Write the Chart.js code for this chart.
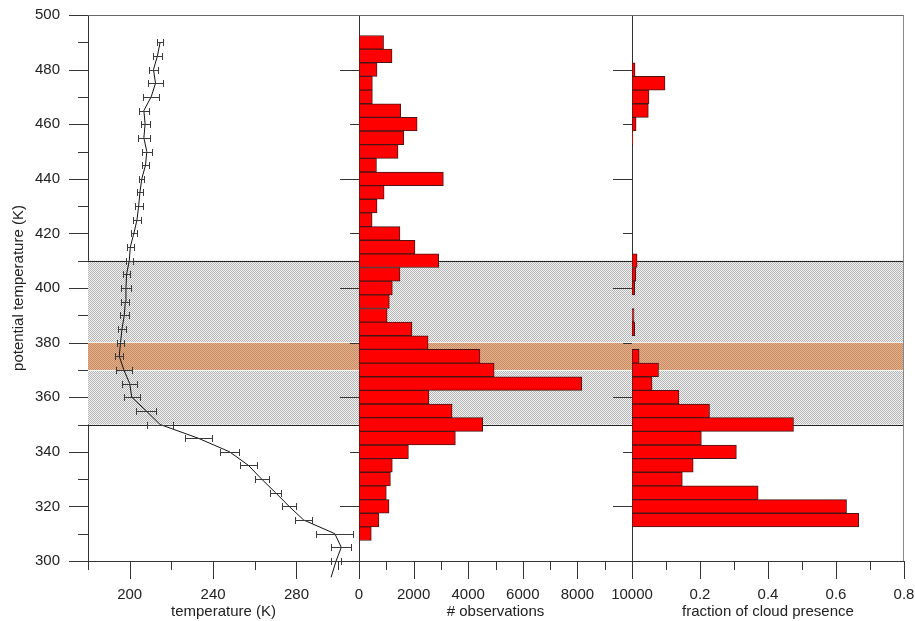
<!DOCTYPE html>
<html>
<head>
<meta charset="utf-8">
<script src="https://cdn.jsdelivr.net/npm/chart.js@4.4.0/dist/chart.umd.min.js"></script>
<style>
  html, body { margin: 0; padding: 0; background: #fff; }
  #wrap { position: relative; width: 915px; height: 621px; }
  #wrap canvas { position: absolute; left: 0; top: 0; }
</style>
</head>
<body>
<div id="wrap">
  <canvas id="c1" width="915" height="621"></canvas>
  <canvas id="c2" width="915" height="621"></canvas>
  <canvas id="c3" width="915" height="621"></canvas>
</div>
<script>
// perfil de temperatura (K) por temperatura potencial, con barras de error
const thetaProfile = [294, 300, 305, 310, 315, 320, 325, 330, 335, 340, 345, 350, 355, 360, 365, 370, 375, 380, 385, 390,
                      395, 400, 405, 410, 415, 420, 425, 430, 435, 440, 445, 450, 455, 460, 465, 470, 475, 480, 485, 490];
const tempMean = [296.6, 299.0, 301.5, 298.4, 283.5, 276.5, 270.0, 263.3, 257.0, 247.9, 232.8, 214.6, 207.9, 201.0, 200.0, 197.2, 195.0, 195.6, 196.3, 197.4,
                  197.9, 198.2, 198.5, 199.8, 200.3, 202.0, 203.5, 204.3, 204.9, 205.8, 207.6, 208.2, 206.8, 207.4, 206.8, 210.3, 212.4, 211.4, 213.3, 214.6];
const tempErr = [null, 2.2, 4.9, 8.9, 4.0, 3.3, 2.6, 3.3, 3.9, 4.4, 6.5, 6.4, 4.9, 3.8, 3.7, 4.0, 1.9, 1.9, 1.9, 2.1,
                 1.9, 2.2, 1.6, 1.6, 1.8, 1.6, 2.1, 1.9, 1.6, 1.3, 1.8, 2.4, 2.9, 2.2, 2.4, 3.8, 3.5, 2.1, 2.1, 1.3];

// histograma de observaciones
const obsBins = [490, 485, 480, 475, 470, 465, 460, 455, 450, 445, 440, 435, 430, 425, 420, 415, 410, 405, 400, 395,
                 390, 385, 380, 375, 370, 365, 360, 355, 350, 345, 340, 335, 330, 325, 320, 315, 310];
const obsCount = [900, 1210, 660, 490, 490, 1530, 2130, 1640, 1430, 640, 3090, 920, 660, 480, 1500, 2050, 2920, 1500, 1220, 1110,
                  1030, 1940, 2530, 4430, 4950, 8160, 2560, 3410, 4530, 3530, 1810, 1220, 1150, 1000, 1100, 730, 450];

// fraccion de presencia de nubes
const cloudBins = [480, 475, 470, 465, 460, 455, 450, 445, 440, 435, 430, 425, 420, 415, 410, 405, 400, 395, 390, 385,
                   380, 375, 370, 365, 360, 355, 350, 345, 340, 335, 330, 325, 320, 315];
const cloudFrac = [0.009, 0.097, 0.050, 0.048, 0.012, 0.002, null, null, null, null, null, null, null, null, 0.015, 0.011, 0.008, null, 0.006, 0.008,
                   null, 0.021, 0.078, 0.059, 0.138, 0.228, 0.475, 0.204, 0.307, 0.180, 0.148, 0.371, 0.631, 0.667];

const grayBand = [350, 410];
const orangeBand = [370, 380];

Chart.defaults.font.family = "'Liberation Sans', Arial, sans-serif";
Chart.defaults.font.size = 15;
Chart.defaults.color = '#222';

function dotPattern(ctx, light, dark) {
    const pc = document.createElement('canvas');
    pc.width = 2; pc.height = 2;
    const g = pc.getContext('2d');
    g.fillStyle = light; g.fillRect(0, 0, 2, 2);
    g.fillStyle = dark; g.fillRect(0, 0, 1, 1); g.fillRect(1, 1, 1, 1);
    return ctx.createPattern(pc, 'repeat');
}

function hLine(ctx, x0, x1, y) {
    const p = Math.round(y) + 0.5;
    ctx.beginPath(); ctx.moveTo(x0, p); ctx.lineTo(x1, p); ctx.stroke();
}

const panelDeco = {
    id: 'panelDeco',
    beforeDatasetsDraw(chart, args, opts) {
        const {ctx, chartArea: a, scales: {y}} = chart;
        const gTop = y.getPixelForValue(grayBand[1]), gBot = y.getPixelForValue(grayBand[0]);
        const oTop = y.getPixelForValue(orangeBand[1]), oBot = y.getPixelForValue(orangeBand[0]);
        ctx.save();
        ctx.fillStyle = dotPattern(ctx, '#f4f4f4', '#b2b2b2');
        ctx.fillRect(a.left, gTop, a.right - a.left, gBot - gTop);
        ctx.fillStyle = dotPattern(ctx, '#e6b28c', '#c68b64');
        ctx.fillRect(a.left, oTop, a.right - a.left, oBot - oTop);
        ctx.lineWidth = 1;
        ctx.strokeStyle = 'rgba(255,255,255,0.75)';
        hLine(ctx, a.left, a.right, oTop - 1);
        hLine(ctx, a.left, a.right, oBot);
        ctx.strokeStyle = '#222';
        hLine(ctx, a.left, a.right, gTop);
        hLine(ctx, a.left, a.right, gBot);
        if (opts.closeBand) {
            const px = Math.round(a.right) - 0.5;
            ctx.beginPath(); ctx.moveTo(px, gTop); ctx.lineTo(px, gBot); ctx.stroke();
        }
        ctx.restore();
    },
    afterDatasetsDraw(chart, args, opts) {
        if (!opts.errorBars) return;
        const {ctx, scales: {x, y}} = chart;
        ctx.save();
        ctx.strokeStyle = '#3a3a3a';
        ctx.lineWidth = 1;
        ctx.beginPath();
        for (let i = 0; i < thetaProfile.length; i++) {
            if (tempErr[i] === null) continue;
            const py = Math.round(y.getPixelForValue(thetaProfile[i])) + 0.5;
            const x0 = Math.round(x.getPixelForValue(tempMean[i] - tempErr[i])) + 0.5;
            const x1 = Math.round(x.getPixelForValue(tempMean[i] + tempErr[i])) + 0.5;
            ctx.moveTo(x0, py); ctx.lineTo(x1, py);
            ctx.moveTo(x0, py - 3.5); ctx.lineTo(x0, py + 3.5);
            ctx.moveTo(x1, py - 3.5); ctx.lineTo(x1, py + 3.5);
        }
        ctx.stroke();
        ctx.restore();
    },
    afterDraw(chart, args, opts) {
        const {ctx, chartArea: a, scales} = chart;
        ctx.save();
        ctx.lineWidth = 1;
        ctx.strokeStyle = '#333';
        ctx.beginPath();
        (opts.ticks || []).forEach(t => {
            const s = scales[t.axis];
            for (let v = t.from; v <= t.to + 1e-9; v += t.step) {
                const p = Math.round(s.getPixelForValue(v)) + 0.5;
                if (t.axis === 'y') { ctx.moveTo(a.left - t.len, p); ctx.lineTo(a.left, p); }
                else { ctx.moveTo(p, a.bottom); ctx.lineTo(p, a.bottom + t.len); }
            }
        });
        ctx.stroke();
        ctx.strokeStyle = '#666';
        hLine(ctx, a.left, a.right, a.top);
        if (opts.rightBorder) {
            ctx.strokeStyle = '#888';
            const px = Math.round(a.right) - 0.5;
            ctx.beginPath(); ctx.moveTo(px, a.top); ctx.lineTo(px, a.bottom); ctx.stroke();
        }
        ctx.restore();
    }
};

// eje y comun (temperatura potencial)
function yAxis(width, showLabels) {
    return {
        type: 'linear', position: 'left', min: 300, max: 500, offset: false,
        grid: { display: false, drawTicks: true, tickLength: 19, offset: false },
        border: { display: true, color: '#333' },
        ticks: {
            stepSize: 20, padding: 9,
            callback: v => showLabels ? String(v) : ''
        },
        title: {
            display: showLabels, text: 'potential temperature (K)',
            padding: { top: 10, bottom: 0 }
        },
        afterFit: s => { s.width = width; s.paddingTop = 0; s.paddingBottom = 0; }
    };
}

function xAxis(min, max, step, label, titleText) {
    return {
        type: 'linear', position: 'bottom', min: min, max: max,
        grid: { display: false, drawTicks: true, tickLength: 18 },
        border: { display: true, color: '#333' },
        ticks: { stepSize: step, padding: 7, autoSkip: false, maxRotation: 0, callback: label },
        title: { display: true, text: titleText, padding: { top: 0, bottom: 0 } },
        afterFit: s => { s.height = 60; s.paddingLeft = 0; s.paddingRight = 0; }
    };
}

const base = { responsive: false, animation: false, events: [] };

new Chart(document.getElementById('c1'), {
    type: 'scatter',
    data: {
        datasets: [{
            data: thetaProfile.map((th, i) => ({ x: tempMean[i], y: th })),
            showLine: true, borderColor: '#111', borderWidth: 1,
            pointRadius: 0, tension: 0, clip: false
        }]
    },
    options: Object.assign({}, base, {
        layout: { padding: { left: 0, right: 556, top: 15, bottom: 0 } },
        scales: {
            x: xAxis(180, 310, 20, v => ((v - 200) % 40 === 0 && v <= 300) ? String(v) : '', 'temperature (K)'),
            y: yAxis(88, true)
        },
        plugins: {
            legend: { display: false }, tooltip: { enabled: false },
            panelDeco: {
                errorBars: true,
                ticks: [
                    { axis: 'y', from: 300, to: 500, step: 20, len: 19 },
                    { axis: 'y', from: 310, to: 490, step: 20, len: 10 },
                    { axis: 'x', from: 200, to: 280, step: 40, len: 18 },
                    { axis: 'x', from: 180, to: 300, step: 40, len: 9 }
                ]
            }
        }
    }),
    plugins: [panelDeco]
});

new Chart(document.getElementById('c2'), {
    type: 'bar',
    data: {
        datasets: [{
            data: obsBins.map((b, i) => ({ y: b, x: obsCount[i] })),
            backgroundColor: '#ff0000', borderColor: '#4a1414', borderWidth: 1,
            borderSkipped: false, barPercentage: 1, categoryPercentage: 1
        }]
    },
    options: Object.assign({}, base, {
        indexAxis: 'y',
        layout: { padding: { left: 339, right: 283, top: 15, bottom: 0 } },
        scales: {
            x: xAxis(0, 10000, 1000, v => (v % 2000 === 0) ? String(v) : '', '# observations'),
            y: yAxis(20, false)
        },
        plugins: {
            legend: { display: false }, tooltip: { enabled: false },
            panelDeco: {
                ticks: [
                    { axis: 'y', from: 320, to: 480, step: 40, len: 19 },
                    { axis: 'y', from: 340, to: 460, step: 40, len: 9 },
                    { axis: 'x', from: 0, to: 10000, step: 2000, len: 18 },
                    { axis: 'x', from: 1000, to: 9000, step: 2000, len: 9 }
                ]
            }
        }
    }),
    plugins: [panelDeco]
});

new Chart(document.getElementById('c3'), {
    type: 'bar',
    data: {
        datasets: [{
            data: cloudBins.map((b, i) => ({ y: b, x: cloudFrac[i] })),
            backgroundColor: '#ff0000', borderColor: '#4a1414', borderWidth: 1,
            borderSkipped: false, barPercentage: 1, categoryPercentage: 1
        }]
    },
    options: Object.assign({}, base, {
        indexAxis: 'y',
        layout: { padding: { left: 612, right: 11, top: 15, bottom: 0 } },
        scales: {
            x: xAxis(0, 0.8, 0.1, v => {
                const k = Math.round(v * 10);
                return (k > 0 && k % 2 === 0) ? (k / 10).toFixed(1) : '';
            }, 'fraction of cloud presence'),
            y: yAxis(20, false)
        },
        plugins: {
            legend: { display: false }, tooltip: { enabled: false },
            panelDeco: {
                closeBand: true, rightBorder: true,
                ticks: [
                    { axis: 'y', from: 320, to: 480, step: 40, len: 19 },
                    { axis: 'y', from: 340, to: 460, step: 40, len: 9 },
                    { axis: 'x', from: 0, to: 0.8, step: 0.2, len: 18 },
                    { axis: 'x', from: 0.1, to: 0.7, step: 0.2, len: 9 }
                ]
            }
        }
    }),
    plugins: [panelDeco]
});
</script>
</body>
</html>
